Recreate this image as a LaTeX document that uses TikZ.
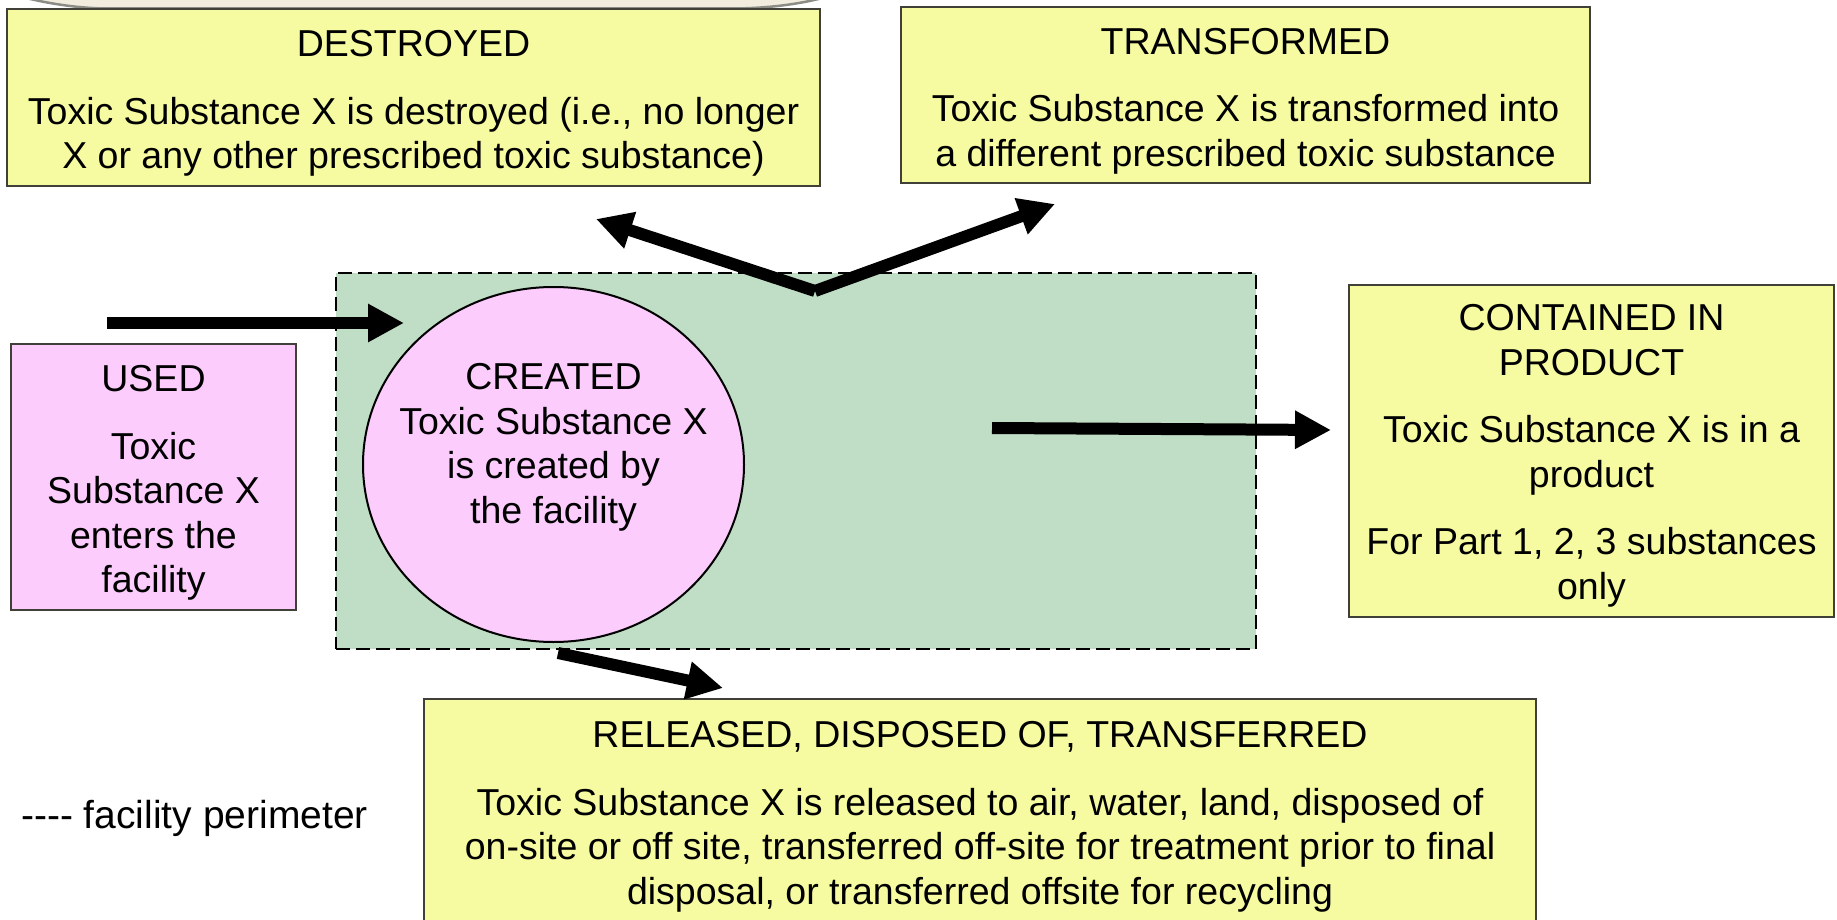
\documentclass[tikz,border=0pt]{standalone}
\usepackage{fontspec}
\setmainfont{Liberation Sans}
\usetikzlibrary{arrows.meta,shapes.geometric}
\definecolor{boxyellow}{RGB}{246,250,160}
\definecolor{boxpink}{RGB}{252,204,252}
\definecolor{facgreen}{RGB}{192,221,197}
\definecolor{boxedge}{RGB}{64,64,56}
\definecolor{scrollfill}{RGB}{241,236,222}
\definecolor{scrolledge}{RGB}{140,140,135}
\begin{document}
\begin{tikzpicture}[x=1pt,y=-1pt,
  every node/.style={font=\fontsize{37.5}{44.5}\selectfont},
  infobox/.style={draw=boxedge, line width=1.5pt, fill=boxyellow, inner sep=0pt},
  usedbox/.style={infobox, fill=boxpink},
  boxtext/.style={align=center, inner sep=0pt},
  bigarrow/.style={line width=12pt, -{Triangle[length=36pt,width=36pt]}},
  perimeter/.style={draw=black, line width=2pt, dash pattern=on 14pt off 6pt, fill=facgreen, inner sep=0pt},
  blob/.style={ellipse, draw=black, line width=2pt, fill=boxpink, inner sep=0pt}
]
\useasboundingbox (0,0) rectangle (1837,920);
\clip (0,0) rectangle (1837,920);
\fill[white] (0,0) rectangle (1837,920);

% decorative strip at top
\draw[scrolledge, line width=2.5pt, fill=scrollfill]
  (18,-4) .. controls (45,3) and (75,8) .. (105,8.5) -- (735,8.5)
  .. controls (775,8) and (805,3) .. (830,-4) -- cycle;

% facility perimeter
\node[perimeter, minimum width=920pt, minimum height=376pt] (facility) at (796,461) {};

% boxes
\node[infobox, minimum width=813pt, minimum height=177pt] (destroyed) at (413.5,97.5) {};
\node[boxtext] (destroyedtxt) at ([yshift=-6pt]destroyed.center)
  {DESTROYED\\[23pt]Toxic Substance X is destroyed (i.e., no longer\\X or any other prescribed toxic substance)};
\node[infobox, minimum width=689pt, minimum height=176pt] (transformed) at (1245.5,95) {};
\node[boxtext] (transformedtxt) at ([yshift=-6pt]transformed.center)
  {TRANSFORMED\\[23pt]Toxic Substance X is transformed into\\a different prescribed toxic substance};
\node[usedbox, minimum width=285pt, minimum height=266pt] (used) at (153.5,477) {};
\node[boxtext] (usedtxt) at ([yshift=-6pt]used.center)
  {USED\\[23pt]Toxic\\Substance X\\enters the\\facility};
\node[infobox, minimum width=485pt, minimum height=332pt] (contained) at (1591.5,451) {};
\node[boxtext] (containedtxt) at ([yshift=-5pt]contained.center)
  {CONTAINED IN\\PRODUCT\\[23pt]Toxic Substance X is in a\\product\\[23pt]For Part 1, 2, 3 substances\\only};
\node[infobox, minimum width=1112pt, minimum height=224pt] (released) at (980,811) {};
\node[boxtext] (releasedtxt) at ([yshift=-6pt]released.center)
  {RELEASED, DISPOSED OF, TRANSFERRED\\[23pt]Toxic Substance X is released to air, water, land, disposed of\\on-site or off site, transferred off-site for treatment prior to final\\disposal, or transferred offsite for recycling};

% created ellipse
\node[blob, minimum width=381pt, minimum height=355pt] (created) at (553.5,464.5) {};
\node[boxtext] (createdtxt) at ([yshift=-4pt]553.5,443.5)
  {CREATED\\Toxic Substance X\\is created by\\the facility};

% legend
\node[anchor=west, inner sep=0pt, font=\fontsize{39}{44}\selectfont] (legend) at (21,818) {-{}-{}-{}- facility perimeter};

% arrows
\coordinate (inS) at (107,323);
\coordinate (inE) at (404,323);
\coordinate (vtx) at (815,291);
\coordinate (dTip) at (596,219);
\coordinate (tTip) at (1055,204);
\coordinate (outS) at (992,428);
\coordinate (outE) at (1331,430);
\coordinate (relS) at (558,653);
\coordinate (relE) at (723,688);
\draw[bigarrow] (inS) -- (inE);
\draw[bigarrow] (vtx) -- (dTip);
\draw[bigarrow] (vtx) -- (tTip);
\draw[bigarrow] (outS) -- (outE);
\draw[bigarrow] (relS) -- (relE);
\end{tikzpicture}
\end{document}
